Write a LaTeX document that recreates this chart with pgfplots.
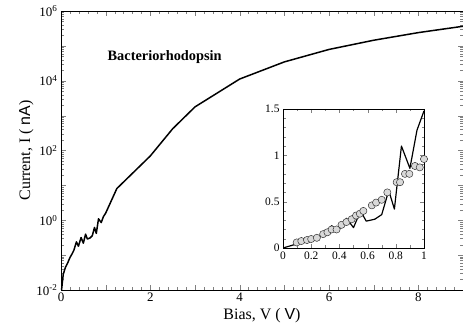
\documentclass[border=0pt]{standalone}
\usepackage{pgfplots}
\pgfplotsset{compat=1.18}
\usepackage{fontspec}
\setmainfont{Liberation Serif}
\setsansfont{Liberation Sans}
\begin{document}
\begin{tikzpicture}[x=1bp,y=1bp]
\begin{axis}[
  at={(61bp,37bp)}, anchor=south west,
  scale only axis, width=402bp, height=279bp,
  xmin=0, xmax=9, ymode=log, ymin=1e-2, ymax=1e6,
  xtick={0,1,...,9}, xticklabels={0,,2,,4,,6,,8,},
  minor x tick num=4,
  ytick={1e-2,1e-1,1,1e1,1e2,1e3,1e4,1e5,1e6},
  yticklabels={10\textsuperscript{-2},,10\textsuperscript{0},,10\textsuperscript{2},,10\textsuperscript{4},,10\textsuperscript{6}},
  tick align=inside, axis line style={line width=0.9pt},
  major tick length=5bp, minor tick length=3bp,
  xticklabel style={font=\fontsize{13}{15}\selectfont, yshift=1bp},
  yticklabel style={font=\fontsize{13}{15}\selectfont},
  /pgf/number format/assume math mode=true,
  xlabel={Bias, V ( \textsf{V})},
  ylabel={Current, I ( \textsf{nA})},
  every axis x label/.style={at={(axis description cs:0.5,-0.104)}, anchor=base, inner sep=0pt, font=\fontsize{16}{18}\selectfont},
  every axis y label/.style={at={(axis description cs:-0.077,0.5)}, anchor=base, rotate=90, inner sep=0pt, font=\fontsize{16}{18}\selectfont},
  clip=false,
]
\addplot[black, line width=1.5pt, line join=round] coordinates {
(0.012,0.01) (0.05,0.028) (0.1,0.045) (0.15,0.06) (0.2,0.085) (0.25,0.11)
(0.29,0.14) (0.345,0.24) (0.39,0.18) (0.45,0.32) (0.50,0.22) (0.55,0.40)
(0.59,0.29) (0.65,0.31) (0.70,0.36) (0.75,0.62) (0.79,0.42) (0.84,1.10)
(0.90,0.86) (0.95,1.27) (1.0,1.6) (1.25,8.1) (2,70) (2.5,420) (3,1780)
(4,11200) (5,34700) (6,79000) (7,145000) (8,240000) (9,365000)
};
\node[anchor=west, inner sep=0pt, font=\fontsize{14.4}{16}\selectfont\bfseries] at (axis cs:1.04,4.8e4) {Bacteriorhodopsin};
\end{axis}
\begin{axis}[
  at={(283bp,79bp)}, anchor=south west,
  scale only axis, width=141bp, height=139bp,
  xmin=0, xmax=1, ymin=0, ymax=1.5,
  xtick={0,0.2,...,1.0}, ytick={0,0.5,1,1.5},
  minor x tick num=1, minor y tick num=4,
  tick align=inside, axis line style={line width=0.8pt},
  major tick length=4bp, minor tick length=2.5bp,
  xticklabel style={font=\fontsize{11.5}{13}\selectfont},
  yticklabel style={font=\fontsize{11.5}{13}\selectfont},
  /pgf/number format/assume math mode=true,
  axis background/.style={fill=white},
]
\addplot[only marks, mark=*, mark size=3.6bp, mark options={fill=gray!30, draw=black!80, line width=0.5pt}] coordinates {
(0.097,0.06) (0.13,0.075) (0.17,0.086) (0.20,0.097) (0.24,0.11) (0.285,0.15)
(0.315,0.17) (0.345,0.20) (0.38,0.20) (0.415,0.25) (0.45,0.28) (0.487,0.31)
(0.518,0.35) (0.545,0.37) (0.57,0.40) (0.63,0.46) (0.66,0.49) (0.70,0.52)
(0.74,0.60) (0.806,0.71) (0.83,0.71) (0.865,0.80) (0.896,0.80) (0.936,0.885)
(0.97,0.87) (1.0,0.96)
};
\addplot[black, line width=1.2pt, line join=round] coordinates {
(0,0) (0.1,0.045) (0.15,0.06) (0.2,0.085) (0.25,0.11)
(0.29,0.14) (0.345,0.24) (0.39,0.18) (0.45,0.32) (0.50,0.22) (0.55,0.40)
(0.59,0.29) (0.65,0.31) (0.70,0.36) (0.75,0.62) (0.79,0.42) (0.84,1.10)
(0.90,0.86) (0.95,1.27) (1.0,1.48)
};
\end{axis}
\pgfresetboundingbox
\path[use as bounding box] (0,0) rectangle (463bp,327bp);
\end{tikzpicture}
\end{document}
